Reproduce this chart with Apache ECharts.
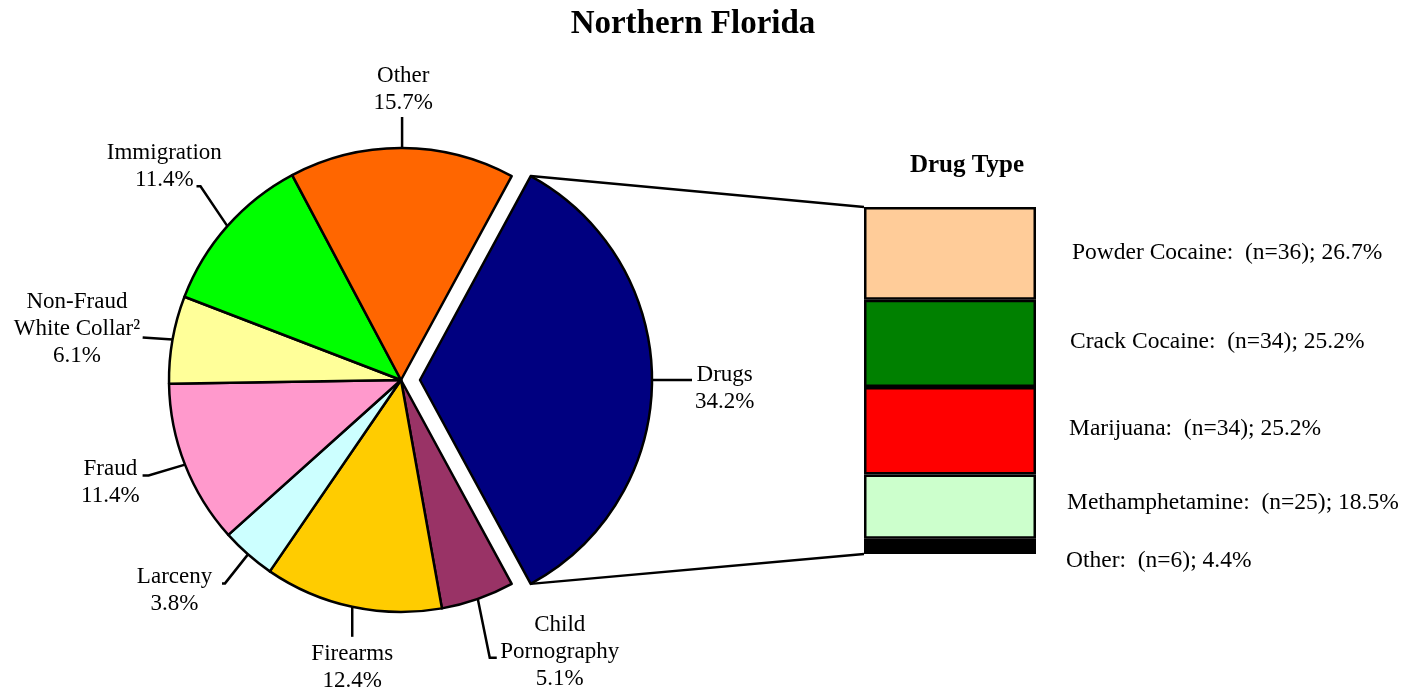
<!DOCTYPE html>
<html><head><meta charset="utf-8">
<script src="https://cdn.jsdelivr.net/npm/echarts@6/dist/echarts.min.js"></script>
<style>html,body{margin:0;padding:0;background:#fff}#c{width:1421px;height:693px}</style>
</head><body><div id="c"></div>
<script>
// ---- data ----
const offenseNames = ['Drugs', 'Child\nPornography', 'Firearms', 'Larceny', 'Fraud', 'Non-Fraud\nWhite Collar\u00B2', 'Immigration', 'Other'];
const offenseShares = [34.2, 5.1, 12.4, 3.8, 11.4, 6.1, 11.4, 15.7];
const drugNames = ['Powder Cocaine', 'Crack Cocaine', 'Marijuana', 'Methamphetamine', 'Other'];
const drugCounts = [36, 34, 34, 25, 6];
const drugShares = [26.7, 25.2, 25.2, 18.5, 4.4];

// ---- styles ----
const offenseColors = ['#000080', '#993366', '#FFCC00', '#CCFFFF', '#FF99CC', '#FFFF99', '#00FF00', '#FF6600'];
const drugColors = ['#FFCC99', '#008000', '#FF0000', '#CCFFCC', '#000000'];
const drugLabelOffsets = [[3, 0], [1, -2], [0, -2], [-2, -4], [-3, 14]];
// leader line: angle (screen deg), len, len2, dir; label attach fractions fx, fy
const leaders = [
  {angle: 0, len: 40, len2: 0, dir: 1, fx: -0.05, fy: 0.34},
  {angle: 78.5, len: 60, len2: 7, dir: 1, fx: -0.03, fy: 0.57},
  {angle: 90, len: 30, len2: 0, dir: 1, fx: 0.5, fy: -0.06},
  {angle: 128.4, len: 37, len2: 3, dir: -1, fx: 1.13, fy: 0.36},
  {angle: 163.4, len: 38, len2: 6, dir: -1, fx: 1.05, fy: 0.38},
  {angle: 183.8, len: 30, len2: 0, dir: -1, fx: 1.02, fy: 0.6},
  {angle: 236, len: 48, len2: 4, dir: -1, fx: 0.78, fy: 0.86},
  {angle: 270, len: 31, len2: 0, dir: 1, fx: 0.48, fy: 1.01}
];
const FONT = 'Liberation Serif';
const LW = 2.5;
const PIE_CENTER = [401, 380];
const PIE_R = 232;
const START = 61.5;
const EXPLODE = 19;
const EXPLODED = 0; // index of the pulled-out slice

const chart = echarts.init(document.getElementById('c'), null, {renderer: 'canvas'});

const total = offenseShares.reduce((a, b) => a + b, 0);
let before = 0;
for (let i = 0; i < EXPLODED; i++) before += offenseShares[i];
const midDeg = START - (before + offenseShares[EXPLODED] / 2) / total * 360;
const explodedCenter = [PIE_CENTER[0] + EXPLODE * Math.cos(midDeg * Math.PI / 180),
                        PIE_CENTER[1] - EXPLODE * Math.sin(midDeg * Math.PI / 180)];

const hidden = {itemStyle: {color: 'rgba(0,0,0,0)', borderWidth: 0, borderColor: 'rgba(0,0,0,0)'},
                label: {show: false}, labelLine: {show: false}};
function pieItems(visible) {
  return offenseNames.map((n, i) => Object.assign(
    {name: n, value: offenseShares[i]},
    visible(i) ? {itemStyle: {color: offenseColors[i]}} : hidden));
}

function labelLayout(p) {
  const cfg = leaders[p.dataIndex];
  if (!cfg || !p.labelLinePoints || !p.labelLinePoints[0] || !p.labelRect) return {};
  const p0 = p.labelLinePoints[0];
  const a = cfg.angle * Math.PI / 180;
  const p1 = [p0[0] + cfg.len * Math.cos(a), p0[1] + cfg.len * Math.sin(a)];
  const p2 = [p1[0] + cfg.len2 * cfg.dir, p1[1]];
  const w = p.labelRect.width, h = p.labelRect.height;
  const left = p2[0] - cfg.fx * w, top = p2[1] - cfg.fy * h;
  return {x: left + w / 2, y: top, align: 'center', verticalAlign: 'top',
    labelLinePoints: [p0, p1, p2]};
}

function pieSeries(center, visible) {
  return {
    type: 'pie', center: center, radius: PIE_R, startAngle: START, clockwise: true,
    avoidLabelOverlap: false, silent: true, selectedMode: false,
    emphasis: {disabled: true},
    itemStyle: {borderColor: '#000', borderWidth: LW},
    label: {show: true, position: 'outside', fontFamily: FONT, fontSize: 23, lineHeight: 27,
      color: '#000', formatter: p => p.name + '\n' + p.value.toFixed(1) + '%'},
    labelLine: {show: true, length: 30, length2: 0, lineStyle: {color: '#000', width: LW}},
    labelLayout: labelLayout,
    data: pieItems(visible)
  };
}

const barSeries = [];
for (let i = drugNames.length - 1; i >= 0; i--) {
  barSeries.push({
    type: 'bar', stack: 'drugs', name: drugNames[i], barWidth: '100%',
    xAxisIndex: 0, yAxisIndex: 0, silent: true,
    data: [drugShares[i]],
    itemStyle: {color: drugColors[i], borderColor: '#000', borderWidth: LW},
    label: {
      show: true, position: 'right', distance: 33, offset: drugLabelOffsets[i],
      fontFamily: FONT, fontSize: 23.5, color: '#000',
      formatter: () => drugNames[i] + ':  (n=' + drugCounts[i] + '); ' + drugShares[i].toFixed(1) + '%'
    }
  });
}

chart.setOption({
  animation: false,
  backgroundColor: '#fff',
  title: [
    {text: 'Northern Florida', left: 693, top: 8, padding: 0, textAlign: 'center',
     textStyle: {fontFamily: FONT, fontSize: 33, fontWeight: 'bold', color: '#000'}},
    {text: 'Drug Type', left: 967, top: 153, padding: 0, textAlign: 'center',
     textStyle: {fontFamily: FONT, fontSize: 25, fontWeight: 'bold', color: '#000'}}
  ],
  grid: {left: 864, top: 207, width: 172, height: 347, containLabel: false},
  xAxis: {type: 'category', data: ['Drugs'], show: false},
  yAxis: {type: 'value', min: 0, max: 100, show: false},
  series: [
    pieSeries(PIE_CENTER, i => i !== EXPLODED),
    pieSeries(explodedCenter, i => i === EXPLODED)
  ].concat(barSeries)
});

// connector lines from the exploded slice to the bar
const model = chart.getModel();
const sl = model.getSeriesByIndex(1).getData().getItemLayout(EXPLODED);
const topPt = [sl.cx + sl.r * Math.cos(sl.startAngle), sl.cy + sl.r * Math.sin(sl.startAngle)];
const botPt = [sl.cx + sl.r * Math.cos(sl.endAngle), sl.cy + sl.r * Math.sin(sl.endAngle)];
const nBar = barSeries.length;
const topLay = model.getSeriesByIndex(1 + nBar).getData().getItemLayout(0);
const botLay = model.getSeriesByIndex(2).getData().getItemLayout(0);
const barTop = Math.min(topLay.y, topLay.y + topLay.height);
const barBot = Math.max(botLay.y, botLay.y + botLay.height);
const barLeft = Math.min(topLay.x, topLay.x + topLay.width);
chart.setOption({
  graphic: [
    {type: 'line', shape: {x1: topPt[0], y1: topPt[1], x2: barLeft, y2: barTop}, style: {stroke: '#000', lineWidth: LW}, z: 0},
    {type: 'line', shape: {x1: botPt[0], y1: botPt[1], x2: barLeft, y2: barBot}, style: {stroke: '#000', lineWidth: LW}, z: 0}
  ]
});
</script></body></html>
